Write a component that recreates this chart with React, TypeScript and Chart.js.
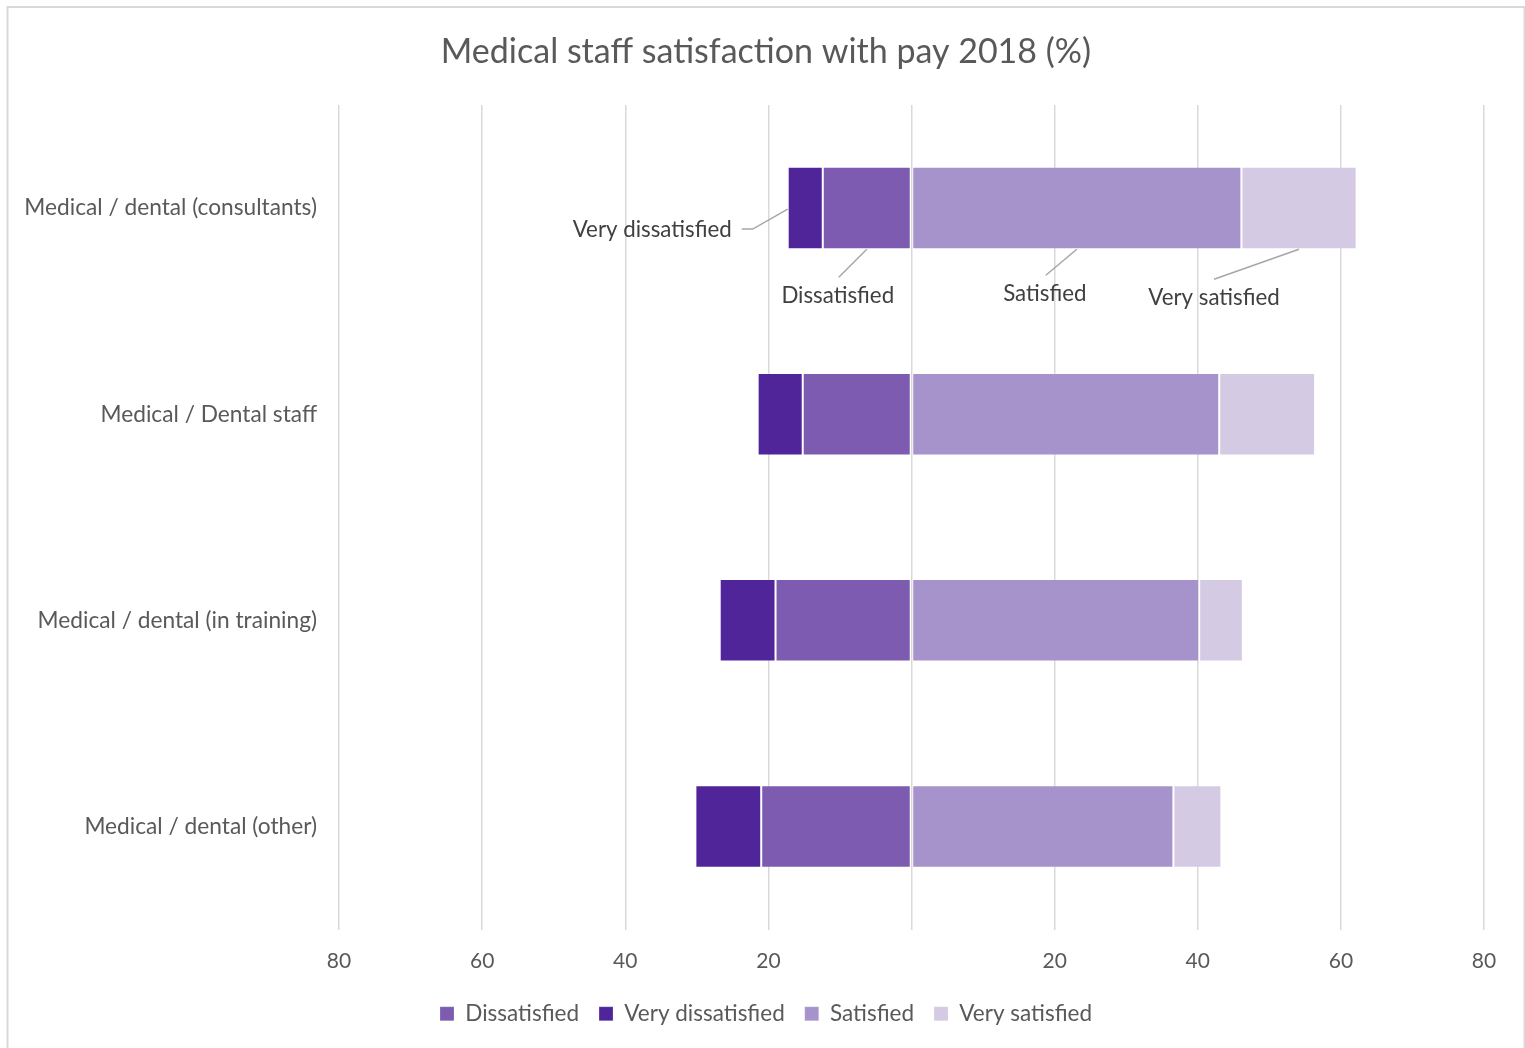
import React, { useEffect, useRef } from "react";
import { Chart, registerables } from "chart.js";

Chart.register(...registerables);

const categories = [
  "Medical / dental (consultants)",
  "Medical / Dental staff",
  "Medical / dental (in training)",
  "Medical / dental (other)",
];
const dissatisfied = [-12.4, -15.2, -19.0, -21.0];
const veryDissatisfied = [-4.9, -6.3, -7.8, -9.2];
const satisfied = [46.1, 43.0, 40.2, 36.6];
const verySatisfied = [16.1, 13.4, 6.1, 6.7];
const seriesNames = ["Dissatisfied", "Very dissatisfied", "Satisfied", "Very satisfied"];
const seriesColors = ["#7D5BB0", "#51259A", "#A793CB", "#D4CAE4"];
const tickValues = [-80, -60, -40, -20, 0, 20, 40, 60, 80];
const title = "Medical staff satisfaction with pay 2018 (%)";

const FONT = "Lato, 'Open Sans', sans-serif";

const framePlugin = {
  id: "frame",
  afterLayout(chart: any) {
    // let the long category labels extend into the left padding (avoid clipping)
    chart.scales.y.left = 0;
  },
  beforeDraw(chart: any) {
    const ctx = chart.ctx;
    ctx.save();
    ctx.fillStyle = "#ffffff";
    ctx.fillRect(0, 0, chart.width, chart.height);
    ctx.strokeStyle = "#d9d9d9";
    ctx.lineWidth = 2;
    ctx.strokeRect(7.5, 7, 1517, 1100);
    ctx.restore();
  },
};

// Labels with leader lines for the first category, positioned relative to the bar segments
const labelPlugin = {
  id: "segmentLabels",
  afterDatasetsDraw(chart: any) {
    const ctx = chart.ctx;
    ctx.save();
    ctx.font = `22.3px ${FONT}`;
    ctx.fillStyle = "#404040";
    ctx.strokeStyle = "#a6a6a6";
    ctx.lineWidth = 1.5;
    ctx.textAlign = "center";
    ctx.textBaseline = "middle";
    const seg = (di: number) => {
      const el = chart.getDatasetMeta(di).data[0];
      const p = el.getProps(["x", "y", "base", "height"], true);
      const left = Math.min(p.x, p.base);
      const right = Math.max(p.x, p.base);
      return { left, right, cx: (left + right) / 2, cy: p.y, bottom: p.y + p.height / 2 };
    };
    // Very dissatisfied (dataset 1)
    {
      const s = seg(1);
      const ax = s.left, ay = s.cy + 1;
      ctx.beginPath();
      ctx.moveTo(ax, ay);
      ctx.lineTo(ax - 35, ay + 20);
      ctx.lineTo(ax - 46, ay + 20);
      ctx.stroke();
      ctx.textAlign = "right";
      ctx.fillText(seriesNames[1], ax - 56, ay + 21);
      ctx.textAlign = "center";
    }
    const others: [number, number, number, number, number][] = [
      // dataset, lineEndDx, lineEndDy, textDx, textDy
      [0, -28, 28, -29, 47],
      [2, -31, 26, -32, 45],
      [3, -85, 30, -85, 49],
    ];
    for (const [di, ldx, ldy, tdx, tdy] of others) {
      const s = seg(di);
      const ax = s.cx, ay = s.bottom;
      ctx.beginPath();
      ctx.moveTo(ax, ay);
      ctx.lineTo(ax + ldx, ay + ldy);
      ctx.stroke();
      ctx.fillText(seriesNames[di], ax + tdx, ay + tdy);
    }
    ctx.restore();
  },
};

export default function App() {
  const ref = useRef<HTMLCanvasElement>(null);
  useEffect(() => {
    document.body.style.overflow = "hidden";
    const values = [dissatisfied, veryDissatisfied, satisfied, verySatisfied];
    const chart = new Chart(ref.current!, {
      type: "bar",
      data: {
        labels: categories,
        datasets: values.map((v, i) => ({
          label: seriesNames[i],
          data: v,
          backgroundColor: seriesColors[i],
          borderColor: "rgba(255,255,255,0.2)",
          borderWidth: 1,
          borderSkipped: false,
          barPercentage: 0.8,
          categoryPercentage: 0.5,
        })),
      },
      options: {
        responsive: false,
        animation: false,
        indexAxis: "y",
        layout: { padding: { left: 48, right: 41, top: 0, bottom: 13 } },
        plugins: {
          tooltip: { enabled: false },
          title: {
            display: true,
            text: title,
            color: "#595959",
            font: { family: FONT, size: 34, weight: "normal" },
            padding: { top: 31.8, bottom: 32.4 },
          },
          legend: {
            position: "bottom",
            labels: {
              color: "#595959",
              font: { family: FONT, size: 22.5 },
              boxWidth: 14,
              boxHeight: 14,
              padding: 20,
            },
          },
        },
        scales: {
          x: {
            stacked: true,
            min: -80,
            max: 80,
            afterBuildTicks: (scale: any) => {
              scale.ticks = tickValues.map((v) => ({ value: v }));
            },
            afterFit: (scale: any) => {
              scale.height = 53;
            },
            ticks: {
              color: "#595959",
              font: { family: FONT, size: 21 },
              padding: 19,
              callback: (v: any) => (Number(v) === 0 ? "" : String(Math.abs(Number(v)))),
            },
            grid: { color: "#d9d9d9", lineWidth: 1.5, drawTicks: false },
            border: { display: false },
          },
          y: {
            stacked: true,
            afterFit: (scale: any) => {
              scale.width = 291;
            },
            ticks: {
              color: "#595959",
              font: { family: FONT, size: 22.7 },
              padding: 22,
            },
            grid: { display: false, drawTicks: false },
            border: { display: false },
          },
        },
      },
      plugins: [framePlugin, labelPlugin],
    } as any);
    return () => chart.destroy();
  }, []);
  return (
    <div style={{ position: "fixed", left: 0, top: 0, width: 1525, height: 1048 }}>
      <canvas ref={ref} width={1525} height={1048} />
    </div>
  );
}
